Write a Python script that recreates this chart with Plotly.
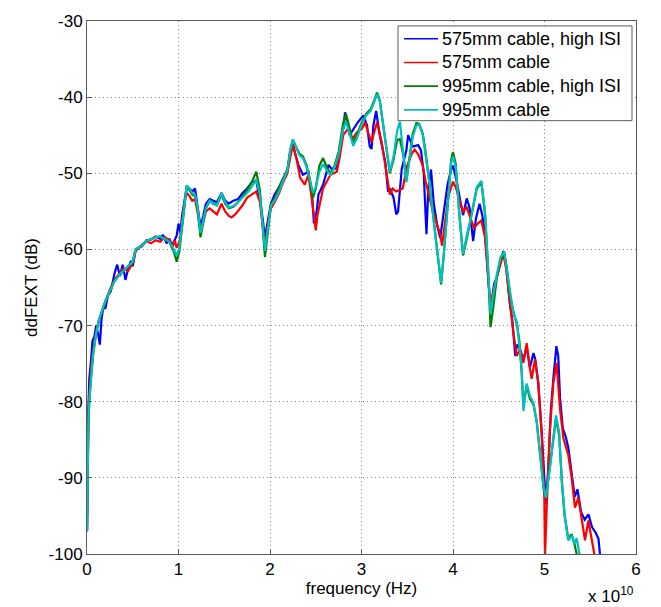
import plotly.graph_objects as go

# ---------------- data (frequency in GHz, ddFEXT in dB) ----------------
blue_f = [0.0, 0.05, 0.1, 0.15, 0.25, 0.35, 0.45, 0.6, 0.8, 1.0, 1.2, 1.4, 1.6, 1.8, 2.0, 2.3, 2.6, 3.0, 3.3, 3.6,
          3.9, 4.2, 4.5, 4.8, 5.0, 5.3, 5.6, 6.0, 6.5, 7.0, 7.5, 8.0, 8.3, 8.7, 9.0, 9.3, 9.6, 9.8, 10.0, 10.2,
          10.4, 10.7, 10.9, 11.2, 11.5, 11.8, 12.1, 12.4, 12.7, 13.0, 13.4, 13.8, 14.2, 14.7, 15.1, 15.5, 16.0, 16.5, 17.0, 17.5,
          18.0, 18.5, 18.9, 19.2, 19.45, 19.8, 20.1, 20.5, 21.0, 21.5, 21.9, 22.2, 22.5, 22.7, 23.1, 23.6, 24.2, 24.6, 24.8, 25.1,
          25.3, 25.8, 26.4, 26.7, 27.3, 27.6, 28.0, 28.2, 28.5, 28.7, 29.1, 29.6, 30.2, 30.6, 30.9, 31.1, 31.3, 31.6, 32.0, 32.6,
          32.9, 33.1, 33.5, 33.8, 34.0, 34.2, 34.4, 34.9, 35.1, 35.6, 36.2, 36.5, 36.8, 37.1, 37.3, 37.6, 37.9, 38.3, 38.6, 39.0,
          39.4, 39.8, 40.0, 40.3, 40.7, 41.1, 41.5, 41.8, 42.2, 42.5, 42.9, 43.2, 43.5, 43.8, 44.0, 44.2, 44.5, 44.8, 45.2, 45.5,
          45.8, 46.2, 46.5, 46.8, 47.0, 47.3, 47.7, 48.05, 48.4, 48.8, 49.0, 49.3, 49.7, 50.0, 50.15, 50.4, 50.7, 51.0, 51.3, 51.5,
          51.7, 52.0, 52.3, 52.6, 52.95, 53.3, 53.6, 54.0, 54.4, 54.8, 55.2, 55.6, 55.9, 56.1]
blue_db = [-97.0, -89.0, -84.0, -81.0, -77.0, -75.0, -74.5, -72.0, -71.5, -70.0, -71.0, -72.5, -69.0, -67.5, -67.8, -66.0, -65.5, -63.2, -62.0, -63.5,
           -62.0, -64.0, -62.5, -61.5, -62.2, -60.2, -59.8, -59.6, -58.8, -58.7, -58.3, -58.6, -58.1, -59.2, -58.6, -59.5, -58.8, -58.2, -56.6, -57.8,
           -55.5, -53.0, -51.8, -52.0, -52.4, -52.0, -54.5, -57.0, -55.6, -54.0, -53.4, -53.6, -53.8, -52.6, -53.6, -54.0, -53.6, -53.4, -52.6, -52.0,
           -51.2, -51.0, -53.5, -56.0, -58.5, -56.0, -54.0, -52.8, -51.8, -50.5, -49.5, -47.5, -46.0, -47.2, -48.9, -50.2, -49.8, -52.8, -56.6, -55.0,
           -52.8, -51.5, -48.9, -49.4, -49.4, -47.0, -44.2, -42.0, -43.5, -45.0, -44.2, -43.3, -42.4, -43.7, -46.5, -46.8, -43.7, -41.8, -45.0, -48.5,
           -52.4, -52.0, -53.2, -55.4, -55.0, -52.4, -49.4, -47.0, -45.0, -46.5, -46.3, -47.0, -50.0, -58.0, -52.0, -49.5, -54.0, -57.0, -58.5, -55.0,
           -51.5, -49.5, -49.0, -50.5, -53.0, -55.5, -53.3, -54.5, -58.9, -56.0, -54.0, -55.5, -58.0, -63.0, -66.2, -67.0, -64.5, -63.6, -61.5, -60.2,
           -62.0, -67.0, -69.5, -74.0, -72.5, -73.0, -74.5, -72.8, -75.5, -73.6, -74.5, -77.5, -84.0, -91.5, -93.5, -89.0, -81.0, -76.5, -72.7, -74.0,
           -79.5, -83.5, -84.5, -86.0, -89.0, -92.5, -91.5, -94.5, -95.5, -94.8, -96.5, -97.2, -98.0, -100.5]

red_f = [0.0, 0.05, 0.1, 0.15, 0.25, 0.35, 0.5, 0.7, 1.0, 1.3, 1.7, 2.0, 2.5, 3.0, 3.5, 4.0, 4.5, 5.0, 5.3, 5.6,
         6.0, 6.5, 7.0, 7.5, 8.0, 8.5, 9.0, 9.3, 9.6, 9.8, 10.1, 10.4, 10.7, 10.9, 11.2, 11.5, 11.8, 12.1, 12.4, 12.7,
         13.0, 13.4, 13.8, 14.2, 14.7, 15.1, 15.5, 15.8, 16.2, 16.5, 17.0, 17.5, 18.0, 18.5, 18.9, 19.2, 19.45, 19.8, 20.1, 20.5,
         21.0, 21.5, 21.9, 22.2, 22.5, 22.9, 23.3, 23.8, 24.2, 24.6, 25.0, 25.2, 25.8, 26.6, 27.3, 27.6, 28.0, 28.5, 29.0, 29.5,
         30.0, 30.4, 30.7, 31.1, 31.4, 31.7, 32.2, 32.7, 33.1, 33.4, 33.8, 34.5, 35.0, 35.5, 35.8, 36.2, 36.7, 37.0, 37.4, 37.8,
         38.2, 38.6, 38.8, 39.1, 39.5, 40.0, 40.3, 40.7, 41.1, 41.5, 41.9, 42.3, 42.7, 43.1, 43.5, 43.8, 44.0, 44.2, 44.5, 44.8,
         45.2, 45.5, 45.8, 46.23, 46.6, 46.96, 47.32, 47.69, 48.05, 48.42, 48.6, 48.96, 49.33, 49.69, 49.98, 50.05, 50.15, 50.24, 50.6, 50.97,
         51.33, 51.69, 52.06, 52.6, 52.97, 53.33, 53.7, 54.06, 54.43, 54.79, 55.15, 55.52]
red_db = [-97.0, -88.5, -84.5, -82.0, -79.0, -77.0, -75.0, -73.0, -70.8, -69.3, -68.0, -66.8, -65.3, -64.0, -63.3, -62.5, -62.8, -61.8, -60.2, -59.8,
          -59.4, -58.9, -59.2, -58.8, -59.0, -58.4, -58.8, -59.8, -58.8, -59.8, -59.0, -56.5, -53.5, -52.6, -53.0, -53.6, -53.4, -55.2, -57.6, -56.4,
          -55.0, -54.6, -55.0, -55.4, -54.0, -55.0, -55.6, -55.8, -55.4, -55.0, -54.2, -53.2, -52.8, -52.4, -53.8, -57.0, -59.6, -56.5, -54.6, -53.8,
          -52.6, -51.0, -50.0, -48.0, -46.3, -48.1, -50.6, -51.5, -50.2, -53.7, -57.5, -55.4, -52.0, -50.2, -49.8, -48.0, -45.0, -44.2, -45.5, -44.6,
          -44.2, -43.3, -44.6, -45.9, -44.5, -43.3, -45.9, -49.8, -52.8, -52.0, -52.4, -52.0, -49.0, -47.4, -46.9, -47.5, -49.0, -51.0, -53.2, -55.0,
          -56.5, -58.0, -59.5, -56.5, -53.0, -51.1, -51.8, -53.5, -55.0, -54.5, -56.0, -57.2, -56.6, -56.2, -58.4, -63.0, -66.0, -67.0, -65.0, -63.6,
          -61.8, -60.6, -62.5, -67.5, -71.0, -74.0, -73.1, -74.9, -72.3, -75.7, -77.0, -74.4, -77.5, -84.4, -92.6, -100.5, -94.5, -93.9, -83.5, -77.5,
          -74.9, -80.9, -84.8, -87.0, -90.0, -93.9, -92.6, -95.6, -98.2, -95.6, -97.8, -100.5]

green_f = [0.0, 0.05, 0.1, 0.15, 0.25, 0.35, 0.5, 0.7, 1.0, 1.3, 1.7, 2.0, 2.5, 3.0, 3.5, 4.0, 4.5, 5.0, 5.3, 5.6,
           6.0, 6.5, 7.0, 7.5, 8.0, 8.5, 9.0, 9.5, 9.8, 10.1, 10.4, 10.7, 10.9, 11.2, 11.5, 11.8, 12.1, 12.4, 12.7, 13.0,
           13.4, 13.8, 14.2, 14.7, 15.1, 15.5, 16.0, 16.5, 17.0, 17.5, 18.0, 18.5, 18.9, 19.2, 19.45, 19.8, 20.1, 20.5, 21.0, 21.5,
           21.9, 22.2, 22.5, 22.8, 23.2, 23.6, 24.0, 24.4, 24.7, 25.0, 25.4, 25.8, 26.2, 26.6, 27.0, 27.5, 28.0, 28.3, 28.7, 29.1,
           29.5, 30.0, 30.5, 31.0, 31.4, 31.7, 32.0, 32.4, 32.8, 33.1, 33.5, 33.9, 34.2, 34.6, 34.9, 35.2, 35.6, 36.0, 36.3, 36.7,
           37.0, 37.5, 38.0, 38.4, 38.7, 39.0, 39.4, 39.8, 40.0, 40.3, 40.7, 41.1, 41.5, 42.0, 42.6, 43.1, 43.5, 43.8, 44.1, 44.4,
           44.8, 45.2, 45.6, 45.9, 46.2, 46.6, 47.0, 47.25, 47.5, 47.7, 48.05, 48.4, 48.8, 49.15, 49.5, 49.9, 50.15, 50.6, 51.0, 51.26,
           51.6, 51.9, 52.2, 52.6, 52.97, 53.3, 53.6]
green_db = [-97.0, -90.0, -85.5, -83.0, -80.0, -78.0, -76.0, -73.5, -71.0, -69.3, -68.0, -66.8, -65.5, -64.2, -63.4, -62.8, -62.3, -61.6, -60.0, -59.8,
            -59.5, -58.9, -58.6, -58.4, -58.3, -58.6, -59.0, -60.3, -61.6, -60.2, -56.8, -53.2, -51.8, -52.2, -52.8, -53.0, -54.8, -58.4, -56.2, -54.6,
            -53.6, -54.0, -54.2, -52.8, -54.0, -54.6, -54.4, -53.8, -53.0, -52.2, -51.2, -49.8, -52.2, -56.5, -61.0, -57.4, -54.0, -53.4, -51.8, -50.6,
            -49.6, -47.0, -45.6, -46.4, -47.4, -47.8, -49.0, -51.2, -53.2, -52.0, -49.0, -48.0, -49.2, -50.0, -49.2, -47.2, -43.4, -42.2, -44.2, -46.0,
            -45.0, -43.4, -42.2, -41.6, -40.4, -39.4, -40.4, -44.0, -47.8, -50.0, -48.2, -45.6, -45.5, -47.8, -51.0, -48.4, -44.8, -43.4, -43.5, -44.8,
            -47.2, -52.0, -57.6, -61.8, -64.6, -60.6, -54.0, -48.2, -47.2, -48.8, -55.6, -60.8, -58.6, -55.8, -52.0, -51.2, -55.4, -61.6, -70.2, -67.6,
            -63.6, -61.2, -60.4, -62.6, -65.8, -68.2, -70.0, -72.0, -76.0, -80.6, -77.8, -79.6, -80.4, -82.6, -87.2, -91.4, -92.6, -88.6, -84.6, -82.2,
            -84.4, -90.6, -95.0, -98.0, -97.4, -98.8, -100.5]

cyan_f = [0.0, 0.05, 0.1, 0.15, 0.25, 0.35, 0.5, 0.7, 1.0, 1.3, 1.7, 2.0, 2.5, 3.0, 3.5, 4.0, 4.5, 5.0, 5.3, 5.6,
          6.0, 6.5, 7.0, 7.5, 8.0, 8.5, 9.0, 9.5, 9.8, 10.1, 10.4, 10.7, 10.9, 11.2, 11.5, 11.8, 12.1, 12.4, 12.7, 13.0,
          13.4, 13.8, 14.2, 14.7, 15.1, 15.5, 16.0, 16.5, 17.0, 17.5, 18.0, 18.5, 18.9, 19.2, 19.45, 19.8, 20.1, 20.5, 21.0, 21.5,
          21.9, 22.2, 22.5, 22.8, 23.2, 23.6, 24.0, 24.4, 24.7, 25.0, 25.4, 25.8, 26.2, 26.6, 27.0, 27.5, 28.0, 28.3, 28.7, 29.1,
          29.5, 30.0, 30.5, 31.0, 31.4, 31.7, 32.0, 32.4, 32.8, 33.1, 33.5, 33.9, 34.2, 34.6, 34.9, 35.2, 35.6, 36.0, 36.3, 36.7,
          37.0, 37.5, 38.0, 38.4, 38.7, 39.0, 39.4, 39.8, 40.0, 40.3, 40.7, 41.1, 41.5, 42.0, 42.6, 43.1, 43.5, 43.8, 44.1, 44.4,
          44.8, 45.2, 45.6, 45.9, 46.2, 46.6, 47.0, 47.25, 47.5, 47.7, 48.05, 48.4, 48.8, 49.15, 49.5, 49.9, 50.15, 50.6, 51.0, 51.26,
          51.6, 51.9, 52.2, 52.6, 52.97, 53.3, 53.5, 53.9]
cyan_db = [-97.0, -90.0, -85.5, -83.0, -80.0, -78.0, -76.0, -73.5, -71.0, -69.3, -68.0, -66.8, -65.5, -64.2, -63.4, -62.8, -62.3, -61.6, -60.0, -59.8,
           -59.5, -58.9, -58.6, -58.4, -58.3, -58.6, -59.0, -60.0, -60.8, -59.8, -56.5, -53.0, -51.6, -52.0, -52.6, -52.8, -54.5, -57.8, -56.0, -54.6,
           -53.6, -53.9, -54.2, -52.6, -53.8, -54.5, -54.3, -53.8, -53.2, -52.6, -51.8, -50.8, -52.8, -56.5, -60.2, -57.0, -54.2, -53.6, -52.4, -50.8,
           -49.6, -47.0, -45.6, -46.4, -47.6, -48.0, -49.2, -51.0, -52.6, -51.8, -49.8, -48.8, -49.6, -50.2, -49.4, -47.6, -44.2, -43.2, -44.8, -46.4,
           -45.4, -43.6, -42.4, -41.8, -40.6, -39.6, -40.6, -44.0, -47.6, -49.8, -47.8, -44.4, -43.2, -47.4, -51.2, -48.6, -45.2, -43.7, -43.6, -45.0,
           -47.4, -52.0, -57.5, -61.6, -64.4, -60.6, -54.2, -48.6, -47.8, -49.2, -55.4, -60.6, -58.2, -55.6, -51.8, -51.0, -55.0, -61.0, -68.5, -66.0,
           -63.2, -61.0, -60.3, -62.8, -65.5, -68.4, -69.6, -72.3, -75.7, -81.2, -77.6, -79.2, -80.2, -82.7, -87.0, -91.2, -92.6, -88.7, -84.4, -81.8,
           -84.0, -90.4, -94.8, -98.2, -97.6, -98.7, -97.9, -100.5]

series_names = ["575mm cable, high ISI", "575mm cable", "995mm cable, high ISI", "995mm cable"]
series_colors = ["#0000FF", "#FF0000", "#008000", "#00BFBF"]

x_ticks = [0, 1, 2, 3, 4, 5, 6]           # units of 1e10 Hz
y_ticks = [-100, -90, -80, -70, -60, -50, -40, -30]

# ---------------- figure ----------------
FONT = "Liberation Sans, Arial, sans-serif"
FS = 17
FIG_W, FIG_H = 661, 607
M_L, M_R, M_T, M_B = 87, 25, 14, 53
PW, PH = FIG_W - M_L - M_R, FIG_H - M_T - M_B


def px_x(p):  # figure pixel -> paper x
    return (p - M_L) / PW


def px_y(p):  # figure pixel -> paper y
    return (FIG_H - M_B - p) / PH


fig = go.Figure()
for f, d, name, col in zip([blue_f, red_f, green_f, cyan_f],
                           [blue_db, red_db, green_db, cyan_db],
                           series_names, series_colors):
    fig.add_trace(go.Scatter(
        x=[v * 1e9 for v in f], y=d, mode="lines", name=name,
        line=dict(color=col, width=2.2), showlegend=False))

axis_common = dict(
    showline=True, mirror=True, linecolor="#5a5a5a", linewidth=1,
    ticks="inside", ticklen=5, tickcolor="#5a5a5a",
    showgrid=True, gridcolor="#8a8a8a", gridwidth=1, griddash="1px,3px",
    zeroline=False, tickfont=dict(family=FONT, size=FS, color="#000"),
)

fig.update_layout(
    width=FIG_W, height=FIG_H,
    margin=dict(l=M_L, r=M_R, t=M_T, b=M_B),
    paper_bgcolor="white", plot_bgcolor="white",
    font=dict(family=FONT, size=FS, color="#000"),
    showlegend=False,
    xaxis=dict(range=[0, 6e10], tickvals=[t * 1e10 for t in x_ticks],
               ticktext=[str(t) for t in x_ticks],
               title=dict(text="frequency (Hz)", font=dict(family=FONT, size=FS), standoff=2),
               **axis_common),
    yaxis=dict(range=[-100, -30], tickvals=y_ticks,
               ticktext=[str(t) for t in y_ticks],
               title=dict(text="ddFEXT (dB)", font=dict(family=FONT, size=FS), standoff=6),
               **axis_common),
)

# legend box (MATLAB style), drawn in paper coordinates
fig.add_shape(type="rect", xref="paper", yref="paper",
              x0=px_x(398), x1=px_x(632), y0=px_y(115), y1=px_y(19),
              fillcolor="white", line=dict(color="#5a5a5a", width=1), layer="above")
row_y = [32, 56, 80, 104]
for ry, name, col in zip(row_y, series_names, series_colors):
    fig.add_shape(type="line", xref="paper", yref="paper",
                  x0=px_x(404), x1=px_x(438), y0=px_y(ry), y1=px_y(ry),
                  line=dict(color=col, width=1.6), layer="above")
    fig.add_annotation(text=name, xref="paper", yref="paper",
                       x=px_x(440), y=px_y(ry), xanchor="left", yanchor="middle",
                       showarrow=False, font=dict(family=FONT, size=FS + 1, color="#000"))

fig.add_annotation(text="x 10<sup>10</sup>", xref="paper", yref="paper",
                   x=1.0, y=-0.052, xanchor="right", yanchor="top",
                   showarrow=False, font=dict(family=FONT, size=FS, color="#000"))

fig.write_html("out.html")
